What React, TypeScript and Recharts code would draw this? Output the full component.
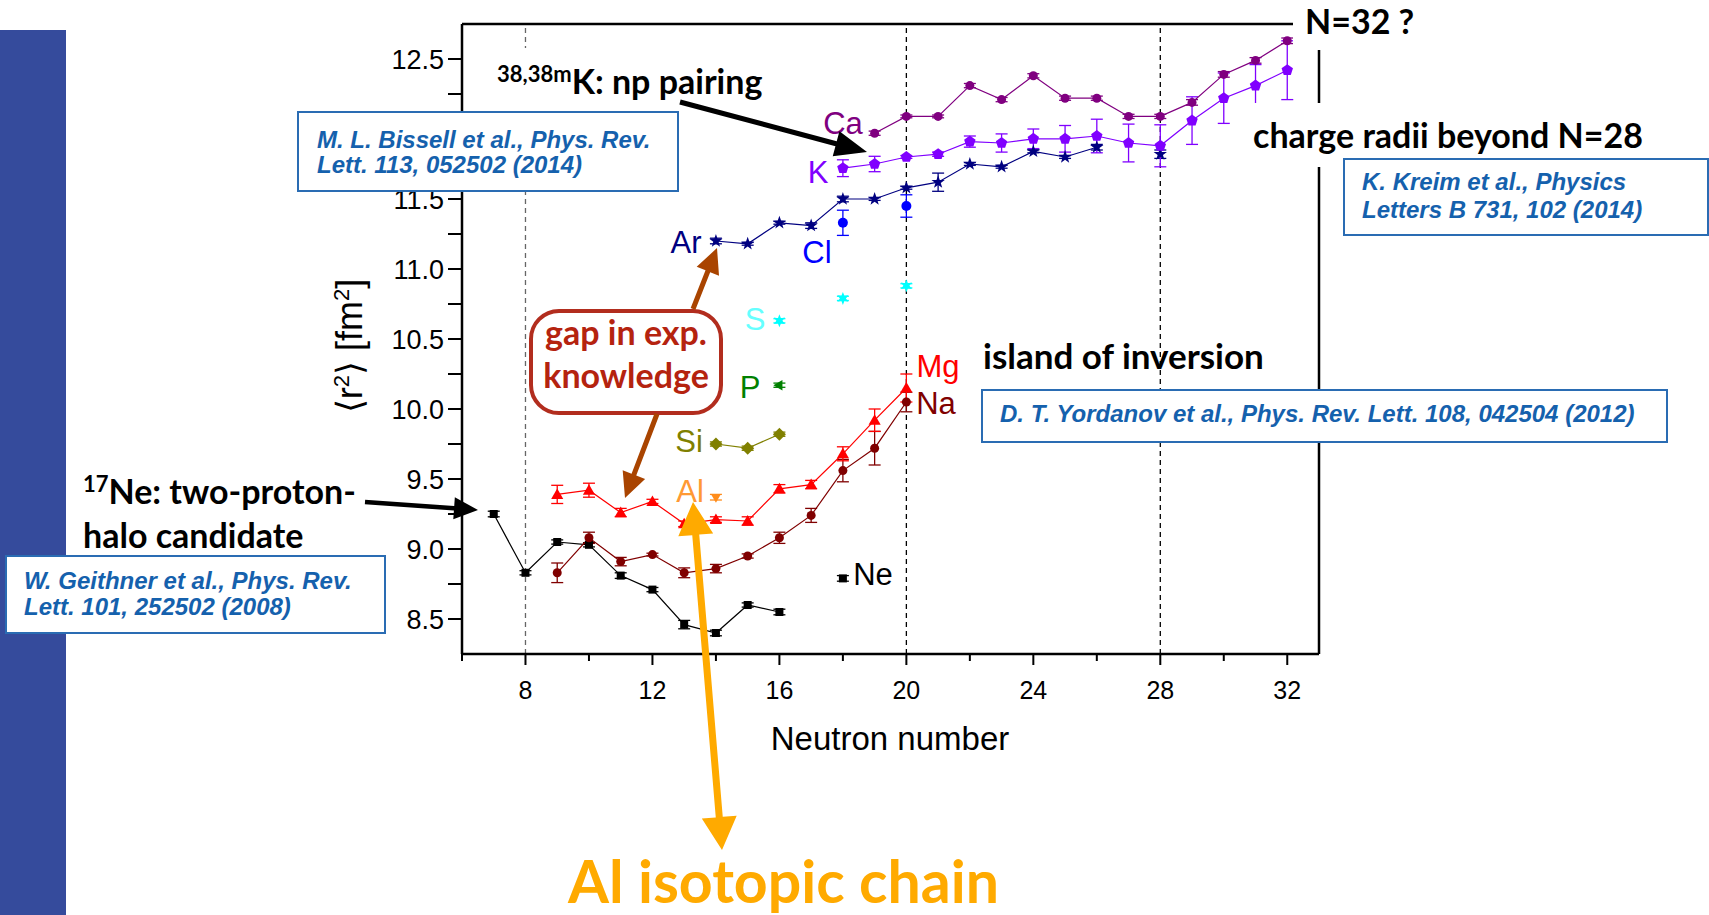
import React from 'react'
import { LineChart, Line, XAxis, YAxis, ErrorBar, ReferenceLine } from 'recharts'

const W = 1709
const H = 915
const ARIAL = '"Liberation Sans", Arial, sans-serif'
const CALIBRI = 'Lato, "Open Sans", sans-serif'

/* ── axes ──────────────────────────────────────────────────────────────── */
const X_TICKS = [6, 8, 10, 12, 14, 16, 18, 20, 22, 24, 26, 28, 30, 32]
const X_LABELS = [8, 12, 16, 20, 24, 28, 32]
const Y_TICKS = [8.5, 8.75, 9, 9.25, 9.5, 9.75, 10, 10.25, 10.5, 10.75, 11, 11.25, 11.5, 11.75, 12, 12.25, 12.5]
const MAGIC = [8, 20, 28]

/* ── isotope chains: neutron number, <r²> [fm²], uncertainty ───────────── */
const NE_N = [7, 8, 9, 10, 11, 12, 13, 14, 15, 16, 17, 18]
const NE_R = [9.25, 8.83, 9.05, 9.03, 8.81, 8.71, 8.46, 8.4, 8.6, 8.55, null, 8.79]
const NE_ERR = [0.02, 0.015, 0.015, 0.015, 0.02, 0.015, 0.03, 0.02, 0.015, 0.02, null, 0.02]

const NA_N = [9, 10, 11, 12, 13, 14, 15, 16, 17, 18, 19, 20]
const NA_R = [8.83, 9.08, 8.91, 8.96, 8.83, 8.86, 8.95, 9.08, 9.24, 9.56, 9.72, 10.05]
const NA_ERR = [0.07, 0.04, 0.03, 0.01, 0.035, 0.03, 0.015, 0.04, 0.05, 0.08, 0.12, 0.07]

const MG_N = [9, 10, 11, 12, 13, 14, 15, 16, 17, 18, 19, 20]
const MG_R = [9.39, 9.42, 9.26, 9.34, 9.18, 9.21, 9.2, 9.43, 9.46, 9.68, 9.92, 10.15]
const MG_ERR = [0.065, 0.05, 0.03, 0.015, 0.02, 0.02, 0.03, 0.03, 0.03, 0.05, 0.08, 0.1]

const AL_N = [14]
const AL_R = [9.37]
const AL_ERR = [0.02]

const SI_N = [14, 15, 16]
const SI_R = [9.75, 9.72, 9.82]
const SI_ERR = [0.015, 0.015, 0.015]

const P_N = [16]
const P_R = [10.17]
const P_ERR = [0.015]

const S_N = [16, 18, 20]
const S_R = [10.63, 10.79, 10.88]
const S_ERR = [0.015, 0.015, 0.015]

const CL_N = [18, 20]
const CL_R = [11.33, 11.45]
const CL_ERR = [0.09, 0.08]

const AR_N = [14, 15, 16, 17, 18, 19, 20, 21, 22, 23, 24, 25, 26, 27, 28]
const AR_R = [11.2, 11.18, 11.33, 11.31, 11.5, 11.5, 11.58, 11.62, 11.75, 11.73, 11.84, 11.8, 11.87, null, 11.82]
const AR_ERR = [0.02, 0.01, 0.01, 0.02, 0.02, 0.01, 0.01, 0.065, 0.01, 0.01, 0.01, 0.01, 0.02, null, 0.03]

const K_N = [18, 19, 20, 21, 22, 23, 24, 25, 26, 27, 28, 29, 30, 31, 32]
const K_R = [11.72, 11.75, 11.8, 11.82, 11.91, 11.9, 11.93, 11.93, 11.95, 11.9, 11.88, 12.06, 12.22, 12.31, 12.42]
const K_ERR = [0.06, 0.055, 0.01, 0.015, 0.04, 0.065, 0.07, 0.095, 0.12, 0.135, 0.15, 0.17, 0.18, 0.15, 0.21]

const CA_N = [19, 20, 21, 22, 23, 24, 25, 26, 27, 28, 29, 30, 31, 32]
const CA_R = [11.97, 12.09, 12.09, 12.31, 12.21, 12.38, 12.22, 12.22, 12.09, 12.09, 12.19, 12.39, 12.49, 12.63]
const CA_ERR = [0.015, 0.01, 0.01, 0.015, 0.015, 0.015, 0.015, 0.015, 0.015, 0.015, 0.02, 0.02, 0.02, 0.02]

const rows = (n: number[], r: (number | null)[], e: (number | null)[]) =>
  n.map((x, i) => ({ n: x, r: r[i], err: e[i] }))

const SERIES = [
  { key: 'Ne', data: rows(NE_N, NE_R, NE_ERR), color: '#000000', shape: 'square', line: true },
  { key: 'Na', data: rows(NA_N, NA_R, NA_ERR), color: '#800000', shape: 'circle', line: true },
  { key: 'Mg', data: rows(MG_N, MG_R, MG_ERR), color: '#ff0000', shape: 'triUp', line: true },
  { key: 'Al', data: rows(AL_N, AL_R, AL_ERR), color: '#ff8c1a', shape: 'triDown', line: false },
  { key: 'Si', data: rows(SI_N, SI_R, SI_ERR), color: '#808000', shape: 'diamond', line: true },
  { key: 'P', data: rows(P_N, P_R, P_ERR), color: '#008000', shape: 'triLeft', line: false },
  { key: 'S', data: rows(S_N, S_R, S_ERR), color: '#00ffff', shape: 'star6', line: false },
  { key: 'Cl', data: rows(CL_N, CL_R, CL_ERR), color: '#0000ff', shape: 'circleL', line: false },
  { key: 'Ar', data: rows(AR_N, AR_R, AR_ERR), color: '#000080', shape: 'star5', line: true },
  { key: 'K', data: rows(K_N, K_R, K_ERR), color: '#8000ff', shape: 'pentagon', line: true },
  { key: 'Ca', data: rows(CA_N, CA_R, CA_ERR), color: '#800080', shape: 'circle', line: true },
]

const ELEMENT_LABELS = [
  { t: 'Ca', x: 843, y: 123, c: '#800080' },
  { t: 'K', x: 818, y: 172, c: '#8000ff' },
  { t: 'Ar', x: 686, y: 242, c: '#000080' },
  { t: 'Cl', x: 817, y: 252, c: '#0000ff' },
  { t: 'S', x: 755, y: 319, c: '#66ffff' },
  { t: 'P', x: 750, y: 387, c: '#008000' },
  { t: 'Si', x: 689, y: 441, c: '#808000' },
  { t: 'Al', x: 690, y: 491, c: '#ff9933' },
  { t: 'Mg', x: 938, y: 366, c: '#ff0000' },
  { t: 'Na', x: 936, y: 403, c: '#800000' },
  { t: 'Ne', x: 873, y: 574, c: '#000000' },
]

/* ── markers ───────────────────────────────────────────────────────────── */
function poly(cx: number, cy: number, n: number, r: number, rot: number, inner?: number) {
  const pts: string[] = []
  const count = inner ? n * 2 : n
  for (let i = 0; i < count; i++) {
    const rad = inner && i % 2 ? inner : r
    const a = rot + (i * 2 * Math.PI) / count
    pts.push(`${cx + rad * Math.cos(a)},${cy + rad * Math.sin(a)}`)
  }
  return pts.join(' ')
}

const makeDot = (shape: string, color: string) => (p: any) => {
  const { cx, cy, index } = p
  const k = `d-${index}`
  if (cx == null || cy == null || p.value == null || (Array.isArray(p.value) && p.value[1] == null)) return <g key={k} />
  switch (shape) {
    case 'square': return <rect key={k} x={cx - 4} y={cy - 4} width={8} height={8} fill={color} />
    case 'circle': return <circle key={k} cx={cx} cy={cy} r={4.5} fill={color} />
    case 'circleL': return <circle key={k} cx={cx} cy={cy} r={5} fill={color} />
    case 'triUp': return <polygon key={k} points={poly(cx, cy + 1, 3, 7, -Math.PI / 2)} fill={color} />
    case 'triDown': return <polygon key={k} points={poly(cx, cy, 3, 5.5, Math.PI / 2)} fill={color} />
    case 'triLeft': return <polygon key={k} points={poly(cx, cy, 3, 6, Math.PI)} fill={color} />
    case 'diamond': return <polygon key={k} points={poly(cx, cy, 4, 6.5, 0)} fill={color} />
    case 'star5': return <polygon key={k} points={poly(cx, cy, 5, 7, -Math.PI / 2, 2.8)} fill={color} />
    case 'star6': return <polygon key={k} points={poly(cx, cy, 6, 6.5, -Math.PI / 2, 3)} fill={color} />
    case 'pentagon': return <polygon key={k} points={poly(cx, cy, 5, 6, -Math.PI / 2)} fill={color} />
    default: return <g key={k} />
  }
}

/* ── ticks ─────────────────────────────────────────────────────────────── */
function XTick(p: any) {
  const { x, y, payload } = p
  const major = X_LABELS.includes(payload.value)
  return (
    <g>
      <line x1={x} x2={x} y1={y} y2={y + (major ? 11 : 7)} stroke="#000" strokeWidth={2} />
      {major && (
        <text x={x} y={y + 45} textAnchor="middle" fontSize={25} fontFamily={ARIAL} fill="#000">{payload.value}</text>
      )}
    </g>
  )
}

function YTick(p: any) {
  const { x, y, payload } = p
  const v = payload.value
  const major = Math.abs(v * 2 - Math.round(v * 2)) < 1e-6
  return (
    <g>
      <line x1={x - 14} x2={x} y1={y} y2={y} stroke="#000" strokeWidth={2} />
      {major && (
        <text x={x - 18} y={y + 9.5} textAnchor="end" fontSize={27} fontFamily={ARIAL} fill="#000">{v.toFixed(1)}</text>
      )}
    </g>
  )
}

/* ── arrows overlay ────────────────────────────────────────────────────── */
function arrowPoints(x1: number, y1: number, x2: number, y2: number, w: number, hl: number, hw: number, both = false) {
  const len = Math.hypot(x2 - x1, y2 - y1)
  const dx = (x2 - x1) / len, dy = (y2 - y1) / len
  const nx = -dy, ny = dx
  const at = (px: number, py: number, s: number) => `${px + nx * s},${py + ny * s}`
  const bx = x2 - dx * hl, by = y2 - dy * hl
  const sx = both ? x1 + dx * hl : x1, sy = both ? y1 + dy * hl : y1
  const pts = [at(sx, sy, w / 2), at(bx, by, w / 2), at(bx, by, hw / 2), `${x2},${y2}`, at(bx, by, -hw / 2), at(bx, by, -w / 2), at(sx, sy, -w / 2)]
  if (both) pts.push(at(sx, sy, -hw / 2), `${x1},${y1}`, at(sx, sy, hw / 2))
  return pts.join(' ')
}

const cite: React.CSSProperties = {
  position: 'absolute', boxSizing: 'border-box', background: '#fff', border: '2.5px solid #2a6cb3',
  fontFamily: ARIAL, fontWeight: 700, fontStyle: 'italic', fontSize: 24, color: '#1561ad', whiteSpace: 'nowrap',
}
const bold: React.CSSProperties = {
  position: 'absolute', fontFamily: CALIBRI, fontWeight: 700, fontSize: 34, lineHeight: '34px', color: '#000', whiteSpace: 'nowrap',
}
const sup: React.CSSProperties = { fontSize: 22, position: 'relative', top: -12, lineHeight: '10px' }

export default function App() {
  return (
    <div style={{ position: 'absolute', left: 0, top: 0, width: W, height: H, background: '#fff', overflow: 'hidden' }}>
      <div style={{ position: 'absolute', left: 0, top: 30, width: 66, height: 885, background: '#354b9c' }} />

      <div style={{ position: 'absolute', left: 0, top: 0 }}>
        <LineChart width={W} height={H} margin={{ top: 24, right: 390, bottom: 200, left: 382 }}>
          <XAxis dataKey="n" type="number" domain={[6, 33]} ticks={X_TICKS} interval={0} allowDataOverflow
            tickSize={0} tickMargin={0} tickLine={false} tick={<XTick />} height={61}
            axisLine={{ stroke: '#000', strokeWidth: 2.5 }} />
          <YAxis type="number" domain={[8.25, 12.75]} ticks={Y_TICKS} interval={0} allowDataOverflow
            tickSize={0} tickMargin={0} tickLine={false} tick={<YTick />} width={80}
            axisLine={{ stroke: '#000', strokeWidth: 2.5 }} />
          <ReferenceLine y={12.75} stroke="#000" strokeWidth={2.5} />
          <ReferenceLine x={33} stroke="#000" strokeWidth={2.5} />
          {MAGIC.map(m => (
            <ReferenceLine key={m} x={m} stroke={m === 8 ? '#666' : '#000'} strokeWidth={1.3} strokeDasharray="5 4" />
          ))}
          {SERIES.map(s => (
            <Line key={s.key} name={s.key} data={s.data} dataKey="r" type="linear"
              stroke={s.line ? s.color : 'none'} strokeWidth={1.2}
              dot={makeDot(s.shape, s.color)} activeDot={false} isAnimationActive={false}>
              <ErrorBar dataKey="err" width={6} strokeWidth={1.3} stroke={s.color} direction="y" />
            </Line>
          ))}
        </LineChart>
      </div>

      {/* axis titles */}
      <div style={{ position: 'absolute', left: 232, top: 326, width: 220, height: 40, lineHeight: '40px', textAlign: 'center',
        transform: 'rotate(-90deg)', fontFamily: ARIAL, fontSize: 36, whiteSpace: 'nowrap' }}>
        ⟨r<sup style={{ fontSize: 22 }}>2</sup>⟩ [fm<sup style={{ fontSize: 22 }}>2</sup>]
      </div>
      <div style={{ position: 'absolute', left: 690, top: 722, width: 400, textAlign: 'center', fontFamily: ARIAL, fontSize: 33, lineHeight: '33px' }}>
        Neutron number
      </div>

      {/* element labels */}
      {ELEMENT_LABELS.map(l => (
        <div key={l.t} style={{ position: 'absolute', left: l.x - 60, top: l.y - 15, width: 120, textAlign: 'center',
          fontFamily: ARIAL, fontSize: 31, lineHeight: '31px', color: l.c }}>{l.t}</div>
      ))}

      {/* annotations */}
      <div style={{ ...bold, left: 494, top: 48, padding: '16px 3px 13px 3px', background: '#fff' }}>
        <span style={sup}>38,38m</span>K: np pairing
      </div>
      <div style={{ ...bold, left: 83, top: 469, lineHeight: '44px' }}>
        <span style={sup}>17</span>Ne: two-proton-<br />halo candidate
      </div>
      <div style={{ ...bold, left: 983, top: 338, fontSize: 35, lineHeight: '35px' }}>island of inversion</div>
      <div style={{ ...bold, left: 1293, top: 0, height: 50, boxSizing: 'border-box', padding: '4px 10px 0 12px', background: '#fff' }}>N=32 ?</div>
      <div style={{ ...bold, left: 1245, top: 103, height: 64, boxSizing: 'border-box', padding: '15px 8px 0 8px', background: '#fff' }}>
        charge radii beyond N=28
      </div>
      <div style={{ ...bold, left: 568, top: 851, fontSize: 59, lineHeight: '59px', color: '#ffaa00' }}>Al isotopic chain</div>

      <div style={{ position: 'absolute', left: 529, top: 309, width: 194, height: 106, boxSizing: 'border-box', border: '4px solid #b22d1e',
        borderRadius: 30, background: '#fff', textAlign: 'center', fontFamily: CALIBRI, fontWeight: 700, fontSize: 34, lineHeight: '43px', color: '#b5230f' }}>
        <div style={{ position: 'relative', top: -3 }}>gap in exp.<br />knowledge</div>
      </div>

      <div style={{ ...cite, left: 297, top: 111, width: 382, height: 81, padding: '14px 0 0 18px', lineHeight: '25px' }}>
        M. L. Bissell et al., Phys. Rev.<br />Lett. 113, 052502 (2014)
      </div>
      <div style={{ ...cite, left: 5, top: 555, width: 381, height: 79, padding: '11px 0 0 17px', lineHeight: '26px' }}>
        W. Geithner et al., Phys. Rev.<br />Lett. 101, 252502 (2008)
      </div>
      <div style={{ ...cite, left: 981, top: 389, width: 687, height: 54, padding: '10px 0 0 17px', lineHeight: '26px' }}>
        D. T. Yordanov et al., Phys. Rev. Lett. 108, 042504 (2012)
      </div>
      <div style={{ ...cite, left: 1343, top: 158, width: 366, height: 78, padding: '8px 0 0 17px', lineHeight: '28px' }}>
        K. Kreim et al., Physics<br />Letters B 731, 102 (2014)
      </div>

      <svg width={W} height={H} style={{ position: 'absolute', left: 0, top: 0, pointerEvents: 'none' }}>
        <polygon points={arrowPoints(680, 102, 867, 152, 5, 32, 26)} fill="#000" />
        <polygon points={arrowPoints(365, 502, 478, 510, 4.5, 24, 22)} fill="#000" />
        <polygon points={arrowPoints(693, 309, 717, 248, 5, 25, 24)} fill="#a94400" />
        <polygon points={arrowPoints(657, 414, 625, 498, 5, 25, 24)} fill="#a94400" />
        <polygon points={arrowPoints(693, 502, 722, 850, 7, 33, 35, true)} fill="#ffaa00" />
      </svg>
    </div>
  )
}
